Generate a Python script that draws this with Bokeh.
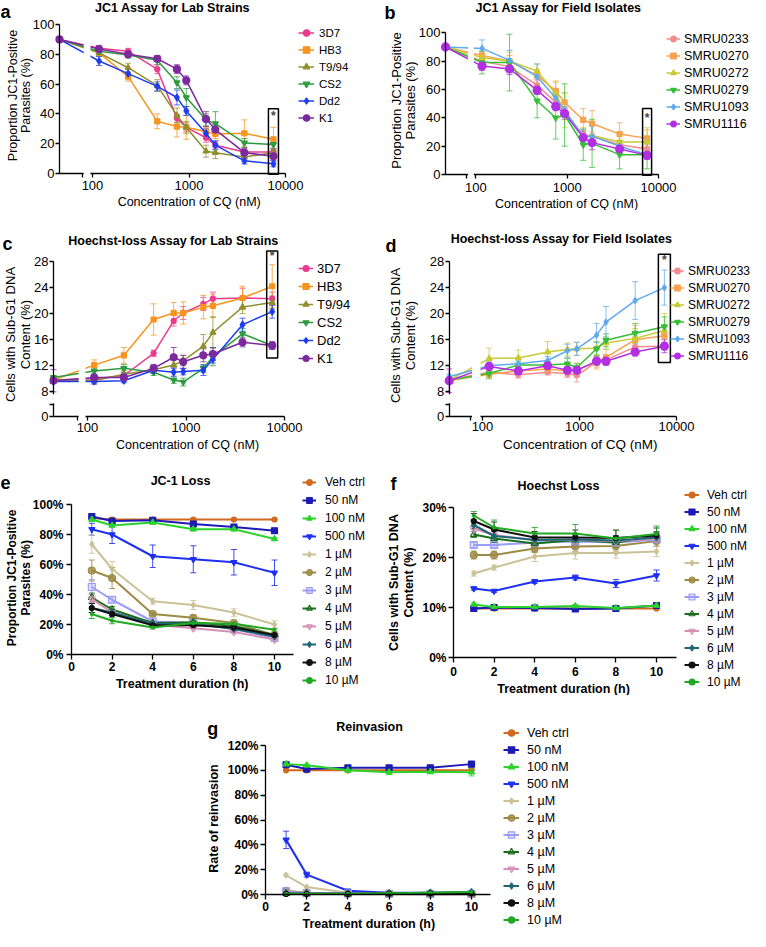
import math
from bokeh.plotting import figure
from bokeh.models import (ColumnDataSource, Whisker, TeeHead, Legend, LegendItem, Label,
                          FixedTicker, BoxAnnotation, Spacer, Range1d)
from bokeh.layouts import column, row
from bokeh.core.properties import value
from bokeh.embed import file_html
from bokeh.resources import INLINE

FONT = "Liberation Sans"

# ---------------- data ----------------
conc_nM = [0, 117, 234, 469, 750, 938, 1500, 1875, 3750, 7500]
conc_tick_vals = [100, 1000, 10000]
conc_tick_labels = ["100", "1000", "10000"]

lab_strains = ["3D7", "HB3", "T9/94", "CS2", "Dd2", "K1"]
field_isolates = ["SMRU0233", "SMRU0270", "SMRU0272", "SMRU0279", "SMRU1093", "SMRU1116"]

# a: JC1 assay, lab strains (% JC1-positive)
a_3D7 = [90, 84, 82, 70, 37, 31, 24, 19, 14.5, 14.5]
a_HB3 = [90, 81, 65, 35, 31.5, 31, 28, 26.5, 27, 23]
a_T994 = [90, 81, 71, 59, 39, 31, 15, 14, 11, 14]
a_CS2 = [90, 82, 79.5, 76, 61, 51, 36, 33.5, 20.5, 19.5]
a_Dd2 = [90, 75.5, 67, 58.5, 51, 42, 27, 19, 8.5, 6.5]
a_K1 = [90, 83.5, 80, 77, 70, 62.5, 36.5, 29.5, 14, 11.5]
a_err_3D7 = [1, 2, 2, 3, 2.5, 3, 3, 2.5, 2, 2]
a_err_HB3 = [1, 2, 3, 5, 7, 8, 3, 3, 9, 8]
a_err_T994 = [1, 2, 3, 4, 5, 4, 4, 4, 3, 3]
a_err_CS2 = [1, 2, 2, 3, 4, 6, 4, 8, 3, 3]
a_err_Dd2 = [1, 3, 3, 3, 5, 3, 3, 3, 2, 2]
a_err_K1 = [1, 2, 2, 2, 3, 3, 5, 3, 3, 3]

# b: JC1 assay, field isolates
b_0233 = [90, 80, 76, 63, 51, 43.5, 28, 27, 21, 18]
b_0270 = [90, 84, 80, 70, 59, 51, 38.5, 36, 28.5, 25.5]
b_0272 = [90, 82.5, 80, 73, 57, 45, 27, 27.5, 23, 23]
b_0279 = [90, 79, 79, 52, 40, 42, 21, 22, 14, 14]
b_1093 = [90, 89, 80.5, 69, 54, 45, 27, 27, 20, 14]
b_1116 = [90, 76.5, 74.5, 59.5, 48, 43, 26, 22.5, 18, 13.5]
b_err_0233 = [1, 3, 4, 3, 3, 3, 3, 3, 3, 3]
b_err_0270 = [1, 3, 4, 3, 7, 7, 8, 9, 8, 6]
b_err_0272 = [1, 3, 6, 5, 8, 12, 6, 7, 7, 10]
b_err_0279 = [1, 8, 20, 12, 15, 22, 11, 17, 10, 10]
b_err_1093 = [1, 6, 7, 9, 4, 3, 5, 7, 3, 3]
b_err_1116 = [1, 3, 4, 3, 3, 4, 4, 5, 3, 3]

# c: Hoechst-loss, lab strains (% sub-G1)
c_3D7 = [9.8, 10.0, 10.5, 13.9, 18.9, 20.1, 21.5, 22.3, 22.4, 22.3]
c_HB3 = [9.8, 12.1, 13.6, 19.1, 20.1, 20.1, 21.0, 21.2, 22.4, 24.2]
c_T994 = [9.8, 9.7, 10.7, 11.4, 12.1, 12.8, 15.0, 17.1, 21.0, 21.7]
c_CS2 = [10.2, 11.2, 11.6, 11.0, 9.8, 9.5, 11.6, 13.4, 16.9, 15.1]
c_Dd2 = [9.6, 9.6, 9.7, 11.3, 11.0, 11.1, 11.3, 13.0, 18.3, 20.3]
c_K1 = [9.7, 10.2, 10.2, 11.6, 13.3, 12.6, 13.6, 13.8, 15.6, 15.1]
c_err_3D7 = [0.3, 0.5, 0.5, 0.5, 0.8, 1.0, 1.0, 1.0, 1.5, 1.0]
c_err_HB3 = [0.3, 0.8, 1.2, 2.4, 1.6, 1.7, 1.8, 1.8, 1.8, 3.3]
c_err_T994 = [0.3, 0.5, 0.6, 0.6, 0.8, 0.8, 1.8, 2.4, 1.0, 1.0]
c_err_CS2 = [0.3, 0.5, 0.6, 0.5, 0.5, 0.6, 0.6, 1.4, 0.8, 0.5]
c_err_Dd2 = [0.3, 0.4, 0.3, 0.5, 0.6, 0.5, 0.8, 0.6, 1.0, 1.0]
c_err_K1 = [1.7, 0.5, 0.5, 0.6, 1.5, 1.0, 1.0, 1.0, 0.7, 0.6]

# d: Hoechst-loss, field isolates
d_0233 = [9.8, 11.0, 10.6, 11.0, 10.8, 10.5, 12.6, 12.9, 14.9, 15.0]
d_0270 = [9.7, 10.7, 11.2, 11.5, 11.2, 11.4, 12.5, 13.3, 16.0, 16.6]
d_0272 = [9.8, 13.1, 13.2, 14.1, 14.5, 14.6, 14.7, 15.5, 16.2, 17.4]
d_0279 = [9.8, 10.8, 12.1, 12.1, 12.3, 11.7, 14.6, 15.9, 17.0, 18.0]
d_1093 = [10.3, 12.0, 12.3, 12.8, 14.3, 14.6, 16.7, 18.7, 22.0, 24.0]
d_1116 = [9.7, 11.9, 11.2, 12.0, 11.3, 11.3, 12.7, 12.7, 14.1, 15.0]
d_err_0233 = [0.3, 0.5, 0.5, 0.4, 0.6, 1.0, 0.8, 0.7, 0.6, 0.6]
d_err_0270 = [0.3, 0.5, 0.5, 0.6, 0.8, 1.0, 1.0, 1.2, 2.2, 1.5]
d_err_0272 = [0.3, 1.6, 1.2, 1.6, 1.0, 1.0, 1.0, 1.0, 1.5, 2.6]
d_err_0279 = [0.3, 0.8, 0.6, 0.6, 0.8, 0.6, 1.0, 1.0, 1.5, 1.5]
d_err_1093 = [0.4, 0.6, 0.6, 0.6, 1.0, 1.0, 1.8, 2.4, 2.9, 2.7]
d_err_1116 = [1.8, 0.5, 0.6, 0.6, 0.5, 0.5, 0.6, 0.6, 0.6, 1.0]
jc1_y_ticks = [0, 20, 40, 60, 80, 100]
hoechst_y_ticks = [0, 8, 12, 16, 20, 24, 28]

# e-g: time courses
hours = [1, 2, 4, 6, 8, 10]
hour_ticks = [0, 2, 4, 6, 8, 10]
treatments = ["Veh ctrl", "50 nM", "100 nM", "500 nM", "1 \u00b5M", "2 \u00b5M",
              "3 \u00b5M", "4 \u00b5M", "5 \u00b5M", "6 \u00b5M", "8 \u00b5M", "10 \u00b5M"]

e_veh = [91, 90, 90, 90, 90, 90]
e_50nM = [92, 89, 89.5, 87, 85, 82.5]
e_100nM = [90, 86, 88, 83.5, 83.5, 77]
e_500nM = [83.5, 80, 65.5, 63.5, 61.5, 54.5]
e_1uM = [73.5, 57, 35.5, 33, 28, 20]
e_2uM = [56, 51, 27, 24.5, 21, 13]
e_3uM = [45, 36.5, 22, 21, 17, 11]
e_4uM = [38, 30, 21, 21.5, 19, 13]
e_5uM = [37, 28, 20, 17.5, 15, 10]
e_6uM = [31, 28, 20.5, 20.5, 17, 12]
e_8uM = [31, 27, 19.5, 19.5, 18, 13]
e_10uM = [27, 22.5, 18, 21, 20.5, 16.5]
e_err = [[0.5] * 6, [1, 1, 1, 1, 1, 1.5], [1, 1, 1, 1, 1, 1], [4, 6, 7.5, 9, 8.5, 8.5],
         [6, 5, 2, 3, 2.5, 2.5], [7, 7, 1, 1.5, 1, 1], [5, 2, 1, 1, 1, 1], [3, 2, 1, 1, 1, 1],
         [3, 2, 1, 1, 1, 1], [3, 2, 1, 1, 1, 1], [3, 2, 1, 1, 1, 1], [3, 2, 1, 1, 1, 1]]
e_yticks = [0, 20, 40, 60, 80, 100]

f_veh = [9.8, 9.8, 9.8, 9.8, 9.8, 9.8]
f_50nM = [9.8, 10.0, 9.9, 9.7, 9.8, 10.4]
f_100nM = [10.6, 10.1, 10.1, 10.3, 9.9, 10.4]
f_500nM = [13.8, 13.3, 15.2, 16.0, 14.8, 16.4]
f_1uM = [16.8, 18.0, 20.2, 20.9, 20.9, 21.2]
f_2uM = [20.5, 20.5, 21.8, 22.2, 22.3, 23.3]
f_3uM = [22.5, 22.5, 23.0, 23.2, 23.0, 23.6]
f_4uM = [24.6, 23.8, 22.8, 23.5, 23.0, 24.2]
f_5uM = [25.8, 24.5, 23.5, 23.5, 23.3, 23.8]
f_6uM = [26.5, 24.3, 23.5, 23.6, 23.4, 24.0]
f_8uM = [27.3, 25.6, 24.0, 24.0, 23.9, 24.4]
f_10uM = [28.4, 26.0, 24.8, 24.8, 23.8, 24.7]
f_err = [[0.1] * 6, [0.2] * 6, [0.3] * 6, [0.3, 0.3, 0.4, 0.5, 0.8, 1.1],
         [0.5, 0.5, 1.0, 1.2, 1.0, 1.0], [0.8, 0.8, 0.8, 1.0, 1.0, 1.0], [0.5] * 6,
         [0.6, 0.8, 0.8, 1.0, 1.0, 1.0], [0.6, 0.8, 0.8, 1.0, 1.0, 1.0], [0.8, 1.0, 1.0, 1.0, 1.0, 1.0],
         [1.5, 1.5, 1.2, 1.5, 1.6, 1.5], [0.8, 1.5, 1.2, 1.8, 1.6, 1.6]]
f_yticks = [0, 10, 20, 30]

g_veh = [100, 100, 100, 100, 100, 100]
g_50nM = [104.5, 101, 102, 102, 102, 105]
g_100nM = [105, 104, 100, 98.5, 98.8, 98.5]
g_500nM = [44, 16, 3, 1.5, 1.5, 1.5]
g_1uM = [15.5, 6, 1.5, 0.8, 0.8, 0.8]
g_2uM = [3, 1.5, 0.8, 0.5, 0.5, 0.5]
g_3uM = [2.5, 1, 0.8, 0.5, 0.5, 0.5]
g_4uM = [1, 0.8, 0.5, 0.5, 0.5, 0.5]
g_5uM = [1.5, 0.8, 0.5, 0.5, 0.3, 0.3]
g_6uM = [1, 0.8, 0.8, 1, 1.5, 2]
g_8uM = [0.5, 0.5, 0.5, 0.8, 1, 1]
g_10uM = [0.5, 0.5, 0.5, 1, 1.5, 2]
g_err = [[0] * 6, [2, 1, 1, 1, 1, 2], [1, 1, 1, 2, 1, 3], [7, 2, 1, 0.5, 0.5, 0.5],
         [1, 0.5, 0.3, 0.3, 0.3, 0.3], [0.5] * 6, [0.5] * 6, [0.3] * 6, [0.3] * 6,
         [0.3] * 6, [0.3] * 6, [0.3] * 6]
g_yticks = [0, 20, 40, 60, 80, 100, 120]

# ---------------- styles ----------------
lab_colors = ["#EC3A8E", "#F7941D", "#8F8F2E", "#2E9B3F", "#1F3DF2", "#7B2A9E"]
field_colors = ["#F48B8B", "#F7A24E", "#C9C934", "#36BE36", "#5EA9F0", "#B22FE3"]
grp_markers = ["circle", "square", "triangle", "inverted_triangle", "diamond", "circle"]
lab_sizes = [5, 5, 6, 6, 7, 7]
field_sizes = [5, 5, 6, 6, 6, 8]
tr_colors = ["#D2691E", "#1C1CB4", "#2BD22B", "#1E30F5", "#CBC197", "#9C8A45",
             "#9A9CF5", "#1B6E1B", "#D68FB5", "#1F6675", "#111111", "#22A822"]
tr_markers = ["circle", "square", "triangle", "inverted_triangle", "diamond", "circle",
              "square", "triangle", "inverted_triangle", "diamond", "circle", "circle"]
tr_sizes = [5, 6, 6, 6, 6, 7, 7, 7, 7, 7, 5, 3]
tr_fill_alpha = [1, 1, 1, 1, 1, 0.8, 0.3, 0.2, 0.2, 1, 1, 1]


# ---------------- helpers ----------------
class PixMap:
    """linear pixel <-> data mapping for a figure whose frame is the whole canvas"""
    def __init__(self, W, H, xa, ya):
        (px1, xv1), (px2, xv2) = xa
        self.sx = (xv2 - xv1) / (px2 - px1)
        self.x0 = xv1 - px1 * self.sx
        (py1, yv1), (py2, yv2) = ya
        self.sy = (yv2 - yv1) / (py2 - py1)
        self.y0 = yv1 - py1 * self.sy
        self.W, self.H = W, H

    def x(self, px):
        return self.x0 + px * self.sx

    def y(self, py):
        return self.y0 + py * self.sy


def make_fig(m):
    p = figure(width=m.W, height=m.H, x_range=Range1d(m.x(0), m.x(m.W)),
               y_range=Range1d(m.y(m.H), m.y(0)), output_backend="svg",
               toolbar_location=None, title=None, min_border=0)
    p.outline_line_color = None
    p.xgrid.visible = False
    p.ygrid.visible = False
    return p


def style_axis(ax, ticks, labels, size, bold, standoff, tick_out, loc, bounds):
    ax.fixed_location = loc
    ax.bounds = bounds
    ax.ticker = FixedTicker(ticks=ticks, minor_ticks=[])
    ax.major_label_overrides = {t: l for t, l in zip(ticks, labels)}
    ax.major_tick_in = 0
    ax.major_tick_out = tick_out
    ax.minor_tick_in = 0
    ax.minor_tick_out = 0
    ax.major_label_standoff = standoff
    ax.major_label_text_font = FONT
    ax.major_label_text_font_size = f"{size}px"
    ax.major_label_text_font_style = "bold" if bold else "normal"
    ax.major_label_text_color = "black"
    ax.axis_line_color = "black"
    ax.axis_line_width = 1.3
    ax.major_tick_line_color = "black"
    ax.major_tick_line_width = 1.3


def txt(p, m, lx, ly, text, size, bold=False, angle=0.0, align="center", baseline="middle"):
    p.add_layout(Label(x=lx, y=m.H - ly, x_units="screen", y_units="screen",
                       text=text, text_font=FONT, text_font_size=f"{size}px",
                       text_font_style="bold" if bold else "normal", text_color="black",
                       text_align=align, text_baseline=baseline, angle=angle))


def series(p, xs, ys, errs, color, marker, size, lw, fill_alpha=1.0, err_alpha=0.75):
    src = ColumnDataSource(dict(x=xs, y=ys,
                                lo=[y - e for y, e in zip(ys, errs)],
                                hi=[y + e for y, e in zip(ys, errs)]))
    p.add_layout(Whisker(source=src, base="x", lower="lo", upper="hi", dimension="height",
                         line_color=color, line_alpha=err_alpha, line_width=1,
                         upper_head=TeeHead(size=6, line_color=color, line_alpha=err_alpha, line_width=1),
                         lower_head=TeeHead(size=6, line_color=color, line_alpha=err_alpha, line_width=1)))
    lr = p.line("x", "y", source=src, line_color=color, line_width=lw)
    sr = p.scatter("x", "y", source=src, marker=marker, size=size, line_color=color,
                   fill_color=color, fill_alpha=fill_alpha, line_width=1.2)
    return [lr, sr]


def legend(p, m, labels, rends, x0, x1, tx, cy0, step, font):
    n = len(labels)
    h = int(round(step))
    items = [LegendItem(label=value(l), renderers=r) for l, r in zip(labels, rends)]
    mid = cy0 + (n - 1) * step / 2
    top = mid - n * h / 2
    leg = Legend(items=items, location=(int(x0), int(round(m.H - (top + n * h)))),
                 glyph_width=int(x1 - x0), glyph_height=h, label_height=h, spacing=0,
                 padding=0, margin=0, label_standoff=int(tx - x1), label_text_font=FONT,
                 label_text_font_size=f"{font}px", label_text_color="black",
                 background_fill_alpha=0, border_line_alpha=0)
    p.add_layout(leg)


def white_box(p, left, right, bottom, top):
    p.add_layout(BoxAnnotation(left=left, right=right, bottom=bottom, top=top,
                               fill_color="white", fill_alpha=1, line_alpha=0, level="overlay"))


def dose_panel(spec):
    W, H = spec["size"]
    xp100, xp10k = spec["xpix"]
    hoechst = spec.get("ypix8") is not None
    if hoechst:
        ya = ((spec["ypix28"], 28), (spec["ypix8"], 8))
    else:
        ya = ((spec["ypix100"], 100), (spec["ypix0"], 0))
    m = PixMap(W, H, ((xp100, 2.0), (xp10k, 4.0)), ya)
    p = make_fig(m)
    zx = m.x(spec["axis_px"])
    bl = m.x(spec["break_px"])
    xs = [zx if c == 0 else math.log10(c) for c in conc_nM]
    if hoechst:
        y0 = m.y(spec["ypix0"])
        ycap = m.y(spec["ycap_px"])
        ypos = [y0 if v == 0 else v for v in hoechst_y_ticks]
        yt = [ypos[0], ycap] + ypos[1:]
        yl = ["0", ""] + [str(v) for v in hoechst_y_ticks[1:]]
        ytop = 28
    else:
        y0 = 0
        yt = list(jc1_y_ticks)
        yl = [str(v) for v in jc1_y_ticks]
        ytop = 100
    xt = [bl] + [math.log10(v) for v in conc_tick_vals]
    style_axis(p.xaxis[0], xt, [""] + conc_tick_labels, 13, False, spec["xstand"], 4,
               y0, (zx, 4.0))
    style_axis(p.yaxis[0], yt, yl, 13, False, spec["ystand"], 4, zx, (y0, ytop))
    rends = []
    for ys, es, col, mk, sz in zip(spec["ys"], spec["es"], spec["colors"], grp_markers, spec["sizes"]):
        rends.append(series(p, xs, ys, es, col, mk, sz, 1.5))
    # axis breaks
    white_box(p, bl + 1.2 * m.sx, m.x(xp100 - 2), m.y(spec["ypix0"] + 3), m.y(spec["top_px"]))
    if hoechst:
        white_box(p, m.x(spec["axis_px"] - 3), m.x(spec["axis_px"] + 2),
                  m.y(spec["ycap_px"] - 1.5), m.y(spec["ypix8"] + 2.5))
    # bracket box + star
    lx = math.log10(conc_nM[-1])
    bx = spec["box"]
    hw = bx[0] * m.sx
    p.add_layout(BoxAnnotation(left=lx - hw, right=lx + hw, bottom=bx[1], top=bx[2],
                               fill_alpha=0, line_color="black", line_alpha=1, line_width=1.5))
    p.add_layout(Label(x=lx, y=bx[3], text="*", text_font=FONT, text_font_size="12px",
                       text_font_style="bold", text_align="center", text_baseline="middle"))
    # texts
    lt = spec["letter"]
    txt(p, m, lt[0], lt[1], lt[2], 18, bold=True, align="left", baseline="alphabetic")
    tt = spec["title"]
    txt(p, m, tt[0], tt[1], tt[2], 12.5, bold=True)
    xtl = spec["xtitle"]
    txt(p, m, xtl[0], xtl[1], "Concentration of CQ (nM)", xtl[2])
    for (lx_, ly_, t, fs) in spec["ytitle"]:
        txt(p, m, lx_, ly_, t, fs, angle=math.pi / 2)
    legend(p, m, spec["labels"], rends, *spec["legend"])
    return p


def time_panel(spec):
    W, H = spec["size"]
    (xp0, xp10), (yp_top, ytopv, yp0) = spec["xpix"], spec["ypix"]
    m = PixMap(W, H, ((xp0, 0), (xp10, 10)), ((yp_top, ytopv), (yp0, 0)))
    p = make_fig(m)
    style_axis(p.xaxis[0], hour_ticks, [str(v) for v in hour_ticks], 12, True, spec["xstand"], 5,
               0, (0, m.x(spec["xend_px"])))
    yt = spec["yticks"]
    style_axis(p.yaxis[0], yt, [f"{v}%" for v in yt], 12, True, spec["ystand"], 5, 0, (0, ytopv))
    rends = []
    for i, (ys, es) in enumerate(zip(spec["ys"], spec["es"])):
        rends.append(series(p, hours, ys, es, tr_colors[i], tr_markers[i], tr_sizes[i], 2,
                            fill_alpha=tr_fill_alpha[i], err_alpha=0.85))
    lt = spec["letter"]
    txt(p, m, lt[0], lt[1], lt[2], 18, bold=True, align="left", baseline="alphabetic")
    tt = spec["title"]
    txt(p, m, tt[0], tt[1], tt[2], 12.5, bold=True)
    xtl = spec["xtitle"]
    txt(p, m, xtl[0], xtl[1], "Treatment duration (h)", 12.5, bold=True)
    for (lx_, ly_, t, fs) in spec["ytitle"]:
        txt(p, m, lx_, ly_, t, fs, bold=True, angle=math.pi / 2)
    legend(p, m, treatments, rends, *spec["legend"])
    return p


LEFT_W = 368
RIGHT_W = 382

pa = dose_panel(dict(
    size=(LEFT_W, 210), xpix=(92, 285), ypix100=24, ypix0=173, top_px=24, axis_px=59, break_px=82,
    xstand=3, ystand=1, ys=[a_3D7, a_HB3, a_T994, a_CS2, a_Dd2, a_K1],
    es=[a_err_3D7, a_err_HB3, a_err_T994, a_err_CS2, a_err_Dd2, a_err_K1],
    colors=lab_colors, sizes=lab_sizes, labels=lab_strains,
    box=(5, -0.5, 43.5, 38.5), letter=(0, 11, "a"), title=(172, 7, "JC1 Assay for Lab Strains"),
    xtitle=(188.7, 201.7, 12.5),
    ytitle=[(12.7, 95, "Proportion JC1-Positive", 12.5), (25, 95, "Parasites (%)", 12.5)],
    legend=(298, 314, 319, 33, 17, 11.5)))

pb = dose_panel(dict(
    size=(RIGHT_W, 210), xpix=(107.3, 290), ypix100=32.3, ypix0=174, top_px=32, axis_px=77,
    break_px=98.3,
    xstand=4, ystand=1, ys=[b_0233, b_0270, b_0272, b_0279, b_1093, b_1116],
    es=[b_err_0233, b_err_0270, b_err_0272, b_err_0279, b_err_1093, b_err_1116],
    colors=field_colors, sizes=field_sizes, labels=field_isolates,
    box=(4.5, -0.5, 46.5, 40), letter=(16, 12, "b"), title=(190, 7, "JC1 Assay for Field Isolates"),
    xtitle=(198, 203.3, 12.5),
    ytitle=[(27.7, 100, "Proportion JC1-Positive", 13), (41.7, 100, "Parasites (%)", 13)],
    legend=(298, 312, 316, 40, 16.6, 12.5)))

pc = dose_panel(dict(
    size=(LEFT_W, 243), xpix=(87, 284), ypix28=51, ypix8=181.3, ypix0=206, ycap_px=194.3, top_px=38,
    axis_px=53, break_px=77,
    xstand=2, ystand=1, ys=[c_3D7, c_HB3, c_T994, c_CS2, c_Dd2, c_K1],
    es=[c_err_3D7, c_err_HB3, c_err_T994, c_err_CS2, c_err_Dd2, c_err_K1],
    colors=lab_colors, sizes=lab_sizes, labels=lab_strains,
    box=(5.5, 13.2, 29.6, 28.8), letter=(2, 33, "c"),
    title=(173, 30, "Hoechst-loss Assay for Lab Strains"),
    xtitle=(187, 234, 12.5),
    ytitle=[(10, 124, "Cells with Sub-G1 DNA", 13), (25, 124, "Content (%)", 13)],
    legend=(298, 313, 317, 58.3, 17.9, 13)))

pd_ = dose_panel(dict(
    size=(RIGHT_W, 243), xpix=(114, 308), ypix28=51, ypix8=181.3, ypix0=206, ycap_px=194.3,
    top_px=38, axis_px=80.7, break_px=102.3,
    xstand=1, ystand=1, ys=[d_0233, d_0270, d_0272, d_0279, d_1093, d_1116],
    es=[d_err_0233, d_err_0270, d_err_0272, d_err_0279, d_err_1093, d_err_1116],
    colors=field_colors, sizes=field_sizes, labels=field_isolates,
    box=(6, 12.5, 29.1, 28.3), letter=(17, 35, "d"),
    title=(193, 28, "Hoechst-loss Assay for Field Isolates"),
    xtitle=(211.7, 234, 13.5),
    ytitle=[(26.7, 125, "Cells with Sub-G1 DNA", 13), (41.7, 125, "Content (%)", 13)],
    legend=(302, 316, 320, 60, 17.3, 12)))

pe = time_panel(dict(
    size=(LEFT_W, 242), xpix=(71, 274), ypix=(51, 100, 201), xend_px=293, yticks=e_yticks,
    xstand=2, ystand=3,
    ys=[e_veh, e_50nM, e_100nM, e_500nM, e_1uM, e_2uM, e_3uM, e_4uM, e_5uM, e_6uM, e_8uM, e_10uM],
    es=e_err, letter=(0, 29, "e"), title=(180, 27, "JC-1 Loss"), xtitle=(181.7, 230.3),
    ytitle=[(11, 124.3, "Proportion JC1-Positive", 12), (25.7, 124.3, "Parasites (%)", 12)],
    legend=(302, 316, 325, 31, 17.57, 12)))

pf = time_panel(dict(
    size=(RIGHT_W, 242), xpix=(85, 288), ypix=(54, 30, 204), xend_px=308, yticks=f_yticks,
    xstand=4, ystand=2,
    ys=[f_veh, f_50nM, f_100nM, f_500nM, f_1uM, f_2uM, f_3uM, f_4uM, f_5uM, f_6uM, f_8uM, f_10uM],
    es=f_err, letter=(22, 30, "f"), title=(190, 32, "Hoechst Loss"), xtitle=(195, 235),
    ytitle=[(25, 129, "Cells with Sub-G1 DNA", 12.5), (40, 129, "Content (%)", 12.5)],
    legend=(316, 331, 339, 40, 17.2, 12)))

pg = time_panel(dict(
    size=(400, 236), xpix=(73, 279), ypix=(50, 120, 199), xend_px=298, yticks=g_yticks,
    xstand=2, ystand=2,
    ys=[g_veh, g_50nM, g_100nM, g_500nM, g_1uM, g_2uM, g_3uM, g_4uM, g_5uM, g_6uM, g_8uM, g_10uM],
    es=g_err, letter=(14.7, 33, "g"), title=(177, 31, "Reinvasion"), xtitle=(176.3, 228.3),
    ytitle=[(21.3, 123, "Rate of reinvasion", 12.5)],
    legend=(311, 327, 335, 36, 17.33, 12.5)))

layout = column(row(pa, pb), row(pc, pd_), row(pe, pf),
                row(Spacer(width=192, height=236), pg))

open("out.html", "w").write(file_html(layout, INLINE))
